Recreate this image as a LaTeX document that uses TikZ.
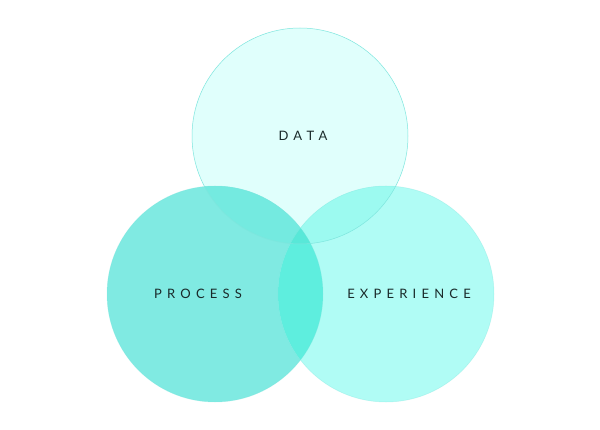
\documentclass[tikz,border=0pt]{standalone}
\usepackage{fontspec}
\setmainfont{Lato}
\definecolor{cD}{HTML}{E0FFFC}
\definecolor{cP}{HTML}{80EAE2}
\definecolor{cE}{HTML}{B0FCF5}
\definecolor{cDP}{HTML}{74EAE0}
\definecolor{cDE}{HTML}{9CFAF0}
\definecolor{cPE}{HTML}{5EEEDE}
\definecolor{cDPE}{HTML}{58E8D8}
\definecolor{cEdge}{HTML}{7EE6DE}
\definecolor{cText}{HTML}{1A2A2A}
\tikzset{
  lbl/.style={font=\fontsize{13}{15}\selectfont\addfontfeature{LetterSpace=40}, text=cText, inner sep=0pt},
  edge/.style={draw=cEdge, line width=0.5pt}
}
\begin{document}
\begin{tikzpicture}[x=1pt,y=-1pt]
\useasboundingbox (0,0) rectangle (600,430);
\fill[white] (0,0) rectangle (600,430);
\def\rr{108}
\coordinate (cd) at (300,136);
\coordinate (cp) at (215,294);
\coordinate (ce) at (386,294);
\fill[cD] (cd) circle (\rr);
\fill[cP] (cp) circle (\rr);
\fill[cE] (ce) circle (\rr);
\begin{scope}
  \clip (cd) circle (\rr);
  \fill[cDP] (cp) circle (\rr);
  \fill[cDE] (ce) circle (\rr);
\end{scope}
\begin{scope}
  \clip (cp) circle (\rr);
  \fill[cPE] (ce) circle (\rr);
  \clip (ce) circle (\rr);
  \fill[cDPE] (cd) circle (\rr);
\end{scope}
\draw[edge] (cd) circle (\rr);
\draw[edge, draw opacity=0.4] (cp) circle (\rr);
\draw[edge, draw opacity=0.4] (ce) circle (\rr);
\node[lbl] (data) at (303,136) {DATA};
\node[lbl] (process) at (198,294) {PROCESS};
\node[lbl] (experience) at (409,294) {EXPERIENCE};
\end{tikzpicture}
\end{document}
